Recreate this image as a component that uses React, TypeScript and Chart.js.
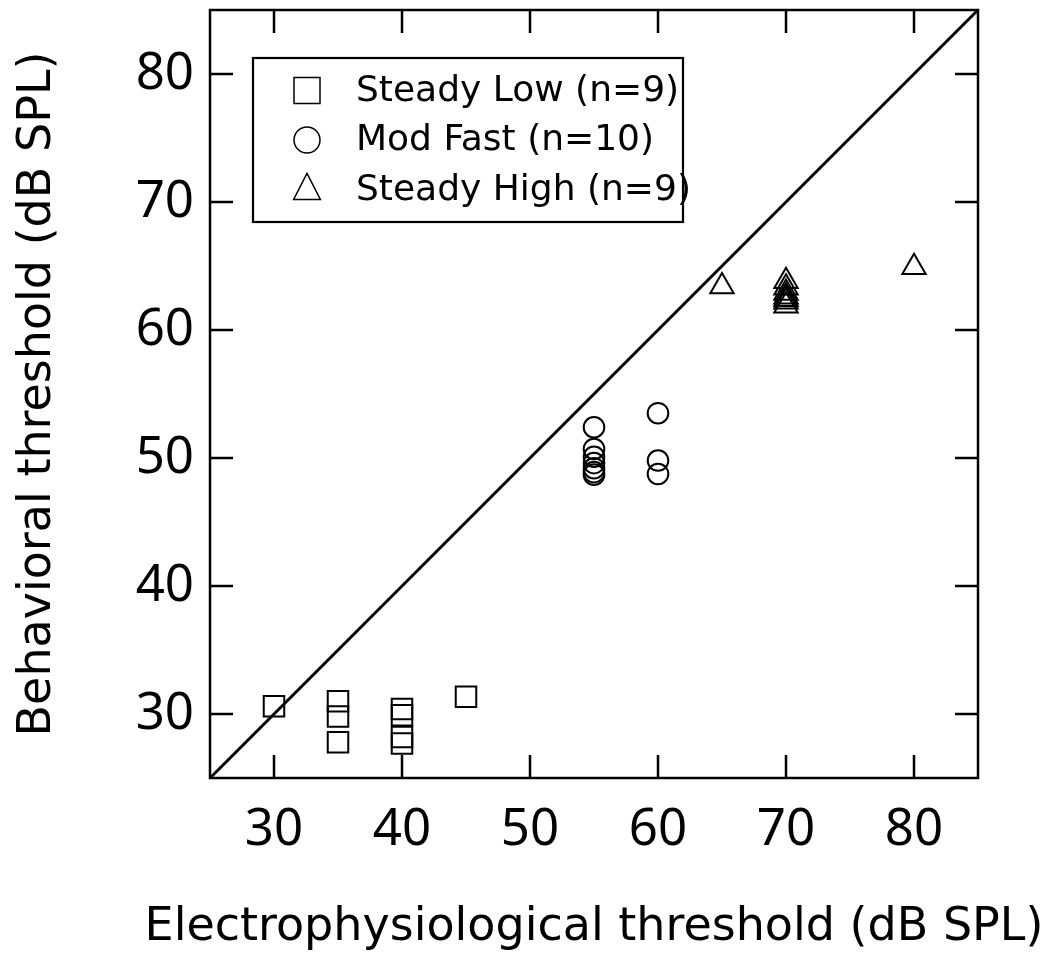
import React, { useEffect, useRef } from "react";
import { Chart, registerables } from "chart.js";
Chart.register(...registerables);

// ---- data ----
const steadyLowX = [30, 35, 35, 35, 40, 40, 40, 40, 45];
const steadyLowY = [30.6, 31.0, 29.8, 27.8, 30.4, 29.9, 28.2, 27.7, 31.35];
const modFastX = [55, 55, 55, 55, 55, 55, 55, 60, 60, 60];
const modFastY = [52.4, 50.7, 50.1, 49.6, 49.2, 48.9, 48.7, 53.5, 49.8, 48.75];
const steadyHighX = [65, 70, 70, 70, 70, 70, 70, 70, 80];
const steadyHighY = [63.4, 63.8, 63.3, 62.9, 62.6, 62.4, 62.2, 61.9, 64.9];
const identityLine = [25, 85];
const axisMin = 25;
const axisMax = 85;
const tickValues = [30, 40, 50, 60, 70, 80];
const legendLabels = ["Steady Low (n=9)", "Mod Fast (n=10)", "Steady High (n=9)"];
const xTitle = "Electrophysiological threshold (dB SPL)";
const yTitle = "Behavioral threshold (dB SPL)";

const TICK_FONT = "'Noto Sans', 'DejaVu Sans', sans-serif";
const TEXT_FONT = "'DejaVu Sans', 'Noto Sans', sans-serif";

const toPoints = (xs: number[], ys: number[]) => xs.map((x, i) => ({ x, y: ys[i] }));

function drawSymbol(ctx: CanvasRenderingContext2D, kind: string, x: number, y: number, size: number) {
  ctx.beginPath();
  if (kind === "rect") {
    ctx.rect(x - size / 2, y - size / 2, size, size);
  } else if (kind === "circle") {
    ctx.arc(x, y, size / 2, 0, Math.PI * 2);
  } else {
    const h = size;
    const w = size * 1.03;
    ctx.moveTo(x, y - h * 0.62);
    ctx.lineTo(x + w / 2, y + h * 0.38);
    ctx.lineTo(x - w / 2, y + h * 0.38);
    ctx.closePath();
  }
  ctx.stroke();
}

const framePlugin = {
  id: "frameAndLegend",
  afterDatasetsDraw(chart: any) {
    const { ctx, chartArea, scales } = chart;
    const { left, right, top, bottom } = chartArea;
    ctx.save();
    ctx.strokeStyle = "#000";
    ctx.lineWidth = 2.5;
    ctx.strokeRect(left, top, right - left, bottom - top);
    const tl = 23;
    ctx.beginPath();
    tickValues.forEach((v) => {
      const px = scales.x.getPixelForValue(v);
      ctx.moveTo(px, bottom);
      ctx.lineTo(px, bottom - tl);
      ctx.moveTo(px, top);
      ctx.lineTo(px, top + tl);
      const py = scales.y.getPixelForValue(v);
      ctx.moveTo(left, py);
      ctx.lineTo(left + tl, py);
      ctx.moveTo(right, py);
      ctx.lineTo(right - tl, py);
    });
    ctx.stroke();

    // legend box
    const bx = left + 43;
    const by = top + 48;
    const bw = 430;
    const bh = 164;
    ctx.fillStyle = "#fff";
    ctx.fillRect(bx, by, bw, bh);
    ctx.lineWidth = 2.2;
    ctx.strokeRect(bx, by, bw, bh);
    const kinds = ["rect", "circle", "triangle"];
    const rowY = [by + 32.5, by + 82, by + 131.5];
    ctx.font = `36px ${TEXT_FONT}`;
    ctx.textBaseline = "middle";
    ctx.textAlign = "left";
    ctx.fillStyle = "#000";
    ctx.lineWidth = 1.5;
    legendLabels.forEach((lab, i) => {
      drawSymbol(ctx, kinds[i], bx + 54, rowY[i], 26);
      ctx.fillText(lab, bx + 103, rowY[i] + 1);
    });

    // x-axis title (wider than the plot area, so drawn here without width limit)
    ctx.font = `46px ${TEXT_FONT}`;
    ctx.textAlign = "center";
    ctx.textBaseline = "alphabetic";
    ctx.fillText(xTitle, (left + right) / 2, bottom + 162);
    ctx.restore();
  },
};

export default function App() {
  const ref = useRef<HTMLCanvasElement | null>(null);
  useEffect(() => {
    if (!ref.current) return;
    const mk = (label: string, xs: number[], ys: number[], style: string, r: number) => ({
      type: "scatter" as const,
      label,
      data: toPoints(xs, ys),
      pointStyle: style,
      pointRadius: r,
      pointHoverRadius: r,
      borderColor: "#000",
      backgroundColor: "rgba(0,0,0,0)",
      pointBorderWidth: 2,
      borderWidth: 2,
    });
    const chart = new Chart(ref.current, {
      type: "scatter",
      data: {
        datasets: [
          {
            type: "line",
            label: "identity",
            data: identityLine.map((v) => ({ x: v, y: v })),
            borderColor: "#000",
            borderWidth: 3,
            pointRadius: 0,
            showLine: true,
            fill: false,
          } as any,
          mk(legendLabels[0], steadyLowX, steadyLowY, "rect", 14.5),
          mk(legendLabels[1], modFastX, modFastY, "circle", 10.3),
          mk(legendLabels[2], steadyHighX, steadyHighY, "triangle", 13.5),
        ],
      },
      options: {
        responsive: false,
        animation: false,
        layout: { autoPadding: false, padding: { left: 0, top: 10, right: 77, bottom: 0 } },
        plugins: { legend: { display: false }, tooltip: { enabled: false } },
        scales: {
          x: {
            type: "linear",
            min: axisMin,
            max: axisMax,
            afterBuildTicks: (s: any) => {
              s.ticks = tickValues.map((v) => ({ value: v }));
            },
            afterFit: (s: any) => {
              s.height = 181;
              s.paddingLeft = 0;
              s.paddingRight = 0;
            },
            grid: { display: false, drawTicks: false },
            border: { display: false },
            ticks: { color: "#000", font: { family: TICK_FONT, size: 51 }, padding: 22, maxRotation: 0 },
            title: { display: false, text: xTitle },
          },
          y: {
            type: "linear",
            min: axisMin,
            max: axisMax,
            afterBuildTicks: (s: any) => {
              s.ticks = tickValues.map((v) => ({ value: v }));
            },
            afterFit: (s: any) => {
              s.width = 210;
              s.paddingTop = 0;
              s.paddingBottom = 0;
            },
            grid: { display: false, drawTicks: false },
            border: { display: false },
            ticks: { color: "#000", font: { family: TICK_FONT, size: 51 }, padding: 16 },
            title: {
              display: true,
              text: yTitle,
              color: "#000",
              font: { family: TEXT_FONT, size: 46 },
              padding: { top: 10, bottom: 0 },
            },
          },
        },
      },
      plugins: [framePlugin],
    } as any);
    return () => chart.destroy();
  }, []);
  return (
    <div style={{ position: "absolute", left: 0, top: 0, width: 1055, height: 959, background: "#fff" }}>
      <canvas ref={ref} width={1055} height={959} style={{ display: "block" }} />
    </div>
  );
}
